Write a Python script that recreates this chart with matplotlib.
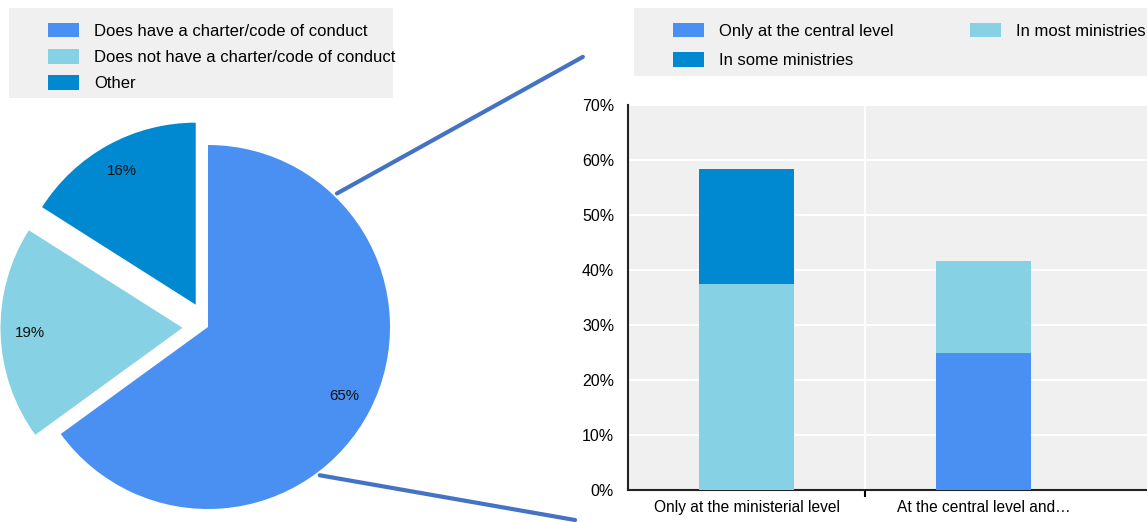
import numpy as np
import matplotlib.pyplot as plt
from matplotlib.patches import ConnectionPatch, Rectangle

plt.rcParams['font.family'] = ['Liberation Sans', 'DejaVu Sans']

# pie data
pie_labels = ['Does have a charter/code of conduct',
              'Does not have a charter/code of conduct',
              'Other']
pie_values = [65, 19, 16]

# bar data
categories = ['Only at the ministerial level', 'At the central level and…']
only_central = [0, 25.0]
most_ministries = [37.5, 16.7]
some_ministries = [20.8, 0]

c_blue = '#4a90f2'
c_light = '#86d1e3'
c_dark = '#0089d1'
bg = '#f0f0f0'

W, H = 1147, 522
fig = plt.figure(figsize=(W / 100, H / 100), dpi=100)

# grey legend backgrounds
fig.add_artist(Rectangle((9 / W, 1 - 98 / H), 384 / W, 90 / H, transform=fig.transFigure,
                         facecolor=bg, edgecolor='none', zorder=0))
fig.add_artist(Rectangle((634 / W, 1 - 76 / H), 513 / W, 68 / H, transform=fig.transFigure,
                         facecolor=bg, edgecolor='none', zorder=0))

# pie axes spans left half, scaled so radius 1 = 182 px
ax_pie = fig.add_axes([0, 0, 0.5, 1])
cx, cy, r = 208, 522 - 327, 182
wedges, _, autotexts = ax_pie.pie(pie_values, colors=[c_blue, c_light, c_dark],
                                  startangle=90, counterclock=False,
                                  explode=[0, 0.14, 0.14], radius=1,
                                  autopct='%d%%', pctdistance=0.84,
                                  textprops={'fontsize': 10.8, 'color': '#111111'})
ax_pie.axis('off')
ax_pie.set_aspect('auto')
ax_pie.set_xlim(-cx / r, (W * 0.5 - cx) / r)
ax_pie.set_ylim(-cy / r, (H - cy) / r)

leg1 = fig.legend(wedges, pie_labels, loc='upper left',
                  bbox_to_anchor=(48 / W, 1 - 23 / H),
                  frameon=False, fontsize=12,
                  handlelength=1.85, handleheight=0.95, handletextpad=0.9,
                  labelspacing=0.62, borderpad=0, borderaxespad=0)

# bar axes
ax = fig.add_axes([628 / W, (H - 490) / H, (W - 628) / W, 385 / H])
ax.set_facecolor(bg)
x = np.arange(len(categories))
w = 0.4
ax.bar(x, only_central, w, color=c_blue, label='Only at the central level', zorder=3)
ax.bar(x, most_ministries, w, bottom=only_central, color=c_light,
       label='In most ministries', zorder=3)
bottom2 = np.array(only_central) + np.array(most_ministries)
ax.bar(x, some_ministries, w, bottom=bottom2, color=c_dark,
       label='In some ministries', zorder=3)

ax.set_ylim(0, 70)
ax.set_xlim(-0.5, -0.5 + (W - 628) / 237)
ax.set_yticks(np.arange(0, 71, 10))
ax.set_yticklabels([f'{v}%' for v in range(0, 71, 10)])
ax.set_xticks(x)
ax.set_xticklabels(categories)
ax.set_xticks([0.5], minor=True)
ax.tick_params(axis='x', which='major', length=0, labelsize=11.2, pad=7)
ax.tick_params(axis='x', which='minor', length=5, width=1.5, direction='out')
ax.tick_params(axis='y', length=0, labelsize=11.5, pad=10)
ax.grid(axis='y', color='white', linewidth=1.5, zorder=0)
ax.grid(axis='x', which='minor', color='white', linewidth=1.5, zorder=0)
for s in ['top', 'right']:
    ax.spines[s].set_visible(False)
for s in ['left', 'bottom']:
    ax.spines[s].set_linewidth(1.5)
    ax.spines[s].set_color('#222222')

h, l = ax.get_legend_handles_labels()
order = [0, 2, 1]
leg2 = fig.legend([h[i] for i in order], [l[i] for i in order], ncol=2,
                  loc='upper left', bbox_to_anchor=(673 / W, 1 - 23 / H),
                  frameon=False, fontsize=12,
                  handlelength=1.85, handleheight=0.95, handletextpad=0.9,
                  labelspacing=0.8, columnspacing=4.6, borderpad=0,
                  borderaxespad=0)

# connector lines from pie edge to bar chart
for ang, end in [(46, (-0.087, 1.125)), (-53, (-0.102, -0.078))]:
    a = np.deg2rad(ang)
    con = ConnectionPatch(xyA=(1.02 * np.cos(a), 1.02 * np.sin(a)), coordsA=ax_pie.transData,
                          xyB=end, coordsB=ax.transAxes,
                          color='#4472c4', linewidth=3)
    fig.add_artist(con)

fig.savefig('out.png', dpi=100)
